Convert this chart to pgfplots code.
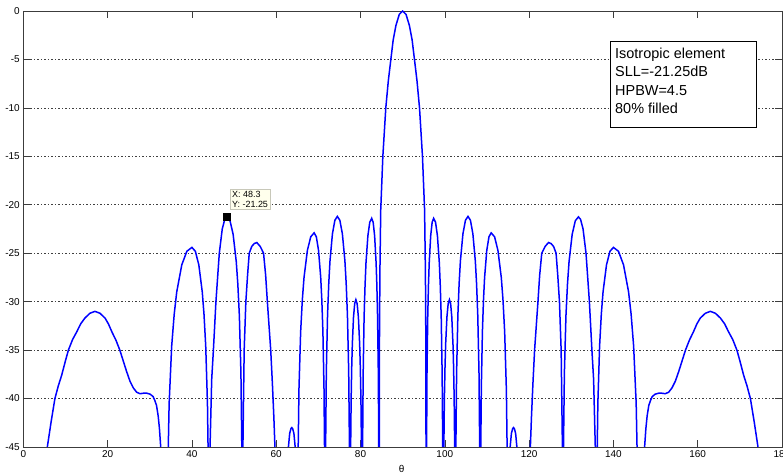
\documentclass[border=0pt]{standalone}
\usepackage{pgfplots}
\pgfplotsset{compat=1.18}
\usepackage{fontspec}
\setmainfont{Liberation Sans}
\definecolor{tipbg}{RGB}{255,255,236}
\definecolor{tipborder}{RGB}{200,200,185}
\definecolor{axgray}{RGB}{60,60,60}
\begin{document}
\begin{tikzpicture}[x=1bp,y=1bp]
\begin{axis}[
  at={(23.3bp,28bp)}, anchor=south west,
  scale only axis, width=758.7bp, height=436bp,
  xmin=0, xmax=180, ymin=-45, ymax=0,
  xtick={0,20,40,60,80,100,120,140,160,180},
  xticklabels={0,20,40,60,80,100,120,140,160,180},
  ytick={-45,-40,-35,-30,-25,-20,-15,-10,-5,0},
  yticklabels={-45,-40,-35,-30,-25,-20,-15,-10,-5,0},
  tick align=inside, tick pos=both,
  major tick length=7bp,
  every tick/.style={axgray, line width=0.6bp},
  axis line style={axgray, line width=0.7bp},
  ymajorgrids,
  major grid style={black!75, line width=0.6bp, dash pattern=on 1.5bp off 2bp},
  ticklabel style={font=\fontsize{10}{12}\selectfont},
]
\addplot[color={rgb,255:red,0;green,0;blue,255}, line width=1.5bp] coordinates {
(5.0,-52) (5.7,-45) (6.6,-42.4) (7.5,-40) (8.3,-38.7) (9.1,-37.6) (10.0,-36.1) (10.7,-35) (11.7,-33.9) (12.7,-33.1) (13.6,-32.3) (14.6,-31.7) (15.8,-31.2) (17.0,-31.0) (18.2,-31.2) (19.4,-31.7) (20.2,-32.3) (21.0,-33.1) (22.0,-34.0) (22.9,-35) (23.7,-36.1) (24.5,-37.2) (25.3,-38.2) (26.1,-38.9) (26.9,-39.35) (27.7,-39.5) (28.5,-39.45) (29.3,-39.45) (30.1,-39.55) (30.8,-39.8) (31.2,-40.2) (31.6,-40.7) (32.0,-41.8) (32.3,-43.1) (32.6,-45) (32.9,-50) (33.2,-60)
(34.0,-60) (34.24,-48.4) (34.6,-40.5) (35.2,-34.6) (35.8,-31.3) (36.4,-29.0) (37.6,-26.2) (38.8,-24.8) (40.0,-24.4) (40.82,-24.8) (41.64,-26.2) (42.46,-29.0) (42.87,-31.3) (43.28,-34.6) (43.69,-40.5) (43.94,-48.4) (44.1,-60)
(44.3,-45) (44.7,-38) (45.1,-35) (45.7,-30) (46.1,-27.5) (46.5,-25) (47.2,-22.5) (47.8,-21.5) (48.3,-21.25) (49.04,-21.65) (49.78,-23.05) (50.52,-25.85) (50.89,-28.15) (51.26,-31.45) (51.63,-37.35) (51.85,-45.25) (52.0,-60)
(52.1,-45) (52.4,-35) (52.8,-30) (53.2,-27.3) (53.6,-25) (54.2,-24.3) (54.8,-24.0) (55.4,-23.9) (56.2,-24.3) (57.0,-25) (57.5,-27.3) (57.9,-30) (58.3,-32.5) (58.7,-35) (59.1,-38.5) (59.45,-42) (59.7,-45) (59.85,-60)
(62.6,-60) (62.9,-45) (63.2,-43.6) (63.5,-43.1) (63.7,-43.0) (63.9,-43.1) (64.2,-43.6) (64.5,-45) (64.85,-60)
(65.0,-60) (65.16,-46.9) (65.4,-39.0) (65.8,-33.1) (66.2,-29.8) (66.6,-27.5) (67.4,-24.7) (68.2,-23.3) (69.0,-22.9) (69.52,-23.3) (70.04,-24.7) (70.56,-27.5) (70.82,-29.8) (71.08,-33.1) (71.34,-39.0) (71.5,-46.9) (71.6,-60)
(71.72,-45.2) (71.89,-37.3) (72.18,-31.4) (72.47,-28.1) (72.76,-25.8) (73.34,-23.0) (73.92,-21.6) (74.5,-21.2) (75.1,-21.6) (75.7,-23.0) (76.3,-25.8) (76.6,-28.1) (76.9,-31.4) (77.2,-37.3) (77.38,-45.2) (77.5,-60)
(77.56,-53.8) (77.64,-45.9) (77.78,-40.0) (77.92,-36.7) (78.06,-34.4) (78.34,-31.6) (78.62,-30.2) (78.9,-29.8) (79.2,-30.2) (79.5,-31.6) (79.8,-34.4) (79.95,-36.7) (80.1,-40.0) (80.25,-45.9) (80.34,-53.8) (80.4,-60)
(80.49,-45.4) (80.63,-37.5) (80.85,-31.6) (81.08,-28.3) (81.3,-26.0) (81.75,-23.2) (82.2,-21.8) (82.65,-21.4) (83.0,-21.8) (83.35,-23.2) (83.7,-26.0) (83.88,-28.3) (84.05,-31.6) (84.23,-37.5) (84.33,-45.4) (84.4,-60)
(84.5,-34) (84.6,-27) (84.8,-20.5) (85.3,-15) (86.0,-10) (86.6,-7.2) (87.2,-5) (87.75,-3) (88.4,-1.5) (89.2,-0.35) (90,0)
(90.8,-0.35) (91.6,-1.5) (92.25,-3) (92.8,-5) (93.4,-7.2) (94.0,-10) (94.7,-15) (95.2,-20.5) (95.4,-27) (95.5,-34) (95.6,-60)
(95.67,-45.4) (95.77,-37.5) (95.95,-31.6) (96.12,-28.3) (96.3,-26.0) (96.65,-23.2) (97.0,-21.8) (97.35,-21.4) (97.8,-21.8) (98.25,-23.2) (98.7,-26.0) (98.92,-28.3) (99.15,-31.6) (99.37,-37.5) (99.51,-45.4) (99.6,-60)
(99.66,-53.8) (99.75,-45.9) (99.9,-40.0) (100.05,-36.7) (100.2,-34.4) (100.5,-31.6) (100.8,-30.2) (101.1,-29.8) (101.38,-30.2) (101.66,-31.6) (101.94,-34.4) (102.08,-36.7) (102.22,-40.0) (102.36,-45.9) (102.44,-53.8) (102.5,-60)
(102.62,-45.2) (102.8,-37.3) (103.1,-31.4) (103.4,-28.1) (103.7,-25.8) (104.3,-23.0) (104.9,-21.6) (105.5,-21.2) (106.08,-21.6) (106.66,-23.0) (107.24,-25.8) (107.53,-28.1) (107.82,-31.4) (108.11,-37.3) (108.28,-45.2) (108.4,-60)
(108.5,-46.9) (108.66,-39.0) (108.92,-33.1) (109.18,-29.8) (109.44,-27.5) (109.96,-24.7) (110.48,-23.3) (111.0,-22.9) (111.8,-23.3) (112.6,-24.7) (113.4,-27.5) (113.8,-29.8) (114.2,-33.1) (114.6,-39.0) (114.84,-46.9) (115.0,-60)
(115.15,-60) (115.5,-45) (115.8,-43.6) (116.1,-43.1) (116.3,-43.0) (116.5,-43.1) (116.8,-43.6) (117.1,-45) (117.4,-60)
(120.15,-60) (120.3,-45) (120.55,-42) (120.9,-38.5) (121.3,-35) (121.7,-32.5) (122.1,-30) (122.5,-27.3) (123.0,-25) (123.8,-24.3) (124.6,-23.9) (125.2,-24.0) (125.8,-24.3) (126.4,-25) (126.8,-27.3) (127.2,-30) (127.6,-35) (127.9,-45) (128.0,-60)
(128.15,-45.25) (128.37,-37.35) (128.74,-31.45) (129.11,-28.15) (129.48,-25.85) (130.22,-23.05) (130.96,-21.65) (131.7,-21.25) (132.2,-21.5) (132.8,-22.5) (133.5,-25) (133.9,-27.5) (134.3,-30) (134.9,-35) (135.3,-38) (135.7,-45) (135.9,-60)
(136.06,-48.4) (136.31,-40.5) (136.72,-34.6) (137.13,-31.3) (137.54,-29.0) (138.36,-26.2) (139.18,-24.8) (140.0,-24.4) (141.2,-24.8) (142.4,-26.2) (143.6,-29.0) (144.2,-31.3) (144.8,-34.6) (145.4,-40.5) (145.76,-48.4) (146.0,-60)
(146.8,-60) (147.1,-50) (147.4,-45) (147.7,-43.1) (148.0,-41.8) (148.4,-40.7) (148.8,-40.2) (149.2,-39.8) (149.9,-39.55) (150.7,-39.45) (151.5,-39.45) (152.3,-39.5) (153.1,-39.35) (153.9,-38.9) (154.7,-38.2) (155.5,-37.2) (156.3,-36.1) (157.1,-35) (158.0,-34.0) (159.0,-33.1) (159.8,-32.3) (160.6,-31.7) (161.8,-31.2) (163.0,-31.0) (164.2,-31.2) (165.4,-31.7) (166.4,-32.3) (167.3,-33.1) (168.3,-33.9) (169.3,-35) (170.0,-36.1) (170.9,-37.6) (171.7,-38.7) (172.5,-40) (173.4,-42.4) (174.3,-45) (175.0,-52)
};
\addplot[only marks, mark=square*, mark size=3.2bp, black] coordinates {(48.3,-21.25)};
\node[anchor=south west, draw=tipborder, fill=tipbg, inner sep=2bp, align=left,
      font=\fontsize{9}{10}\selectfont, xshift=3bp, yshift=7bp]
  at (axis cs:48.3,-21.25) {X: 48.3\\Y: -21.25};
\end{axis}
\draw[black, line width=0.7bp, fill=white] (610,347.7) rectangle (756.7,433.3);
\begin{scope}[every node/.style={anchor=base west, inner sep=0pt, font=\fontsize{14.5}{17}\selectfont}]
\node at (615,416.4) {Isotropic element};
\node at (615,398.1) {SLL=-21.25dB};
\node at (615,379.8) {HPBW=4.5};
\node at (615,361.5) {80\% filled};
\end{scope}
\node[font=\fontsize{10}{12}\selectfont] at (401.7,6) {θ};
\pgfresetboundingbox
\useasboundingbox (0,0) rectangle (783,475);
\end{tikzpicture}
\end{document}
